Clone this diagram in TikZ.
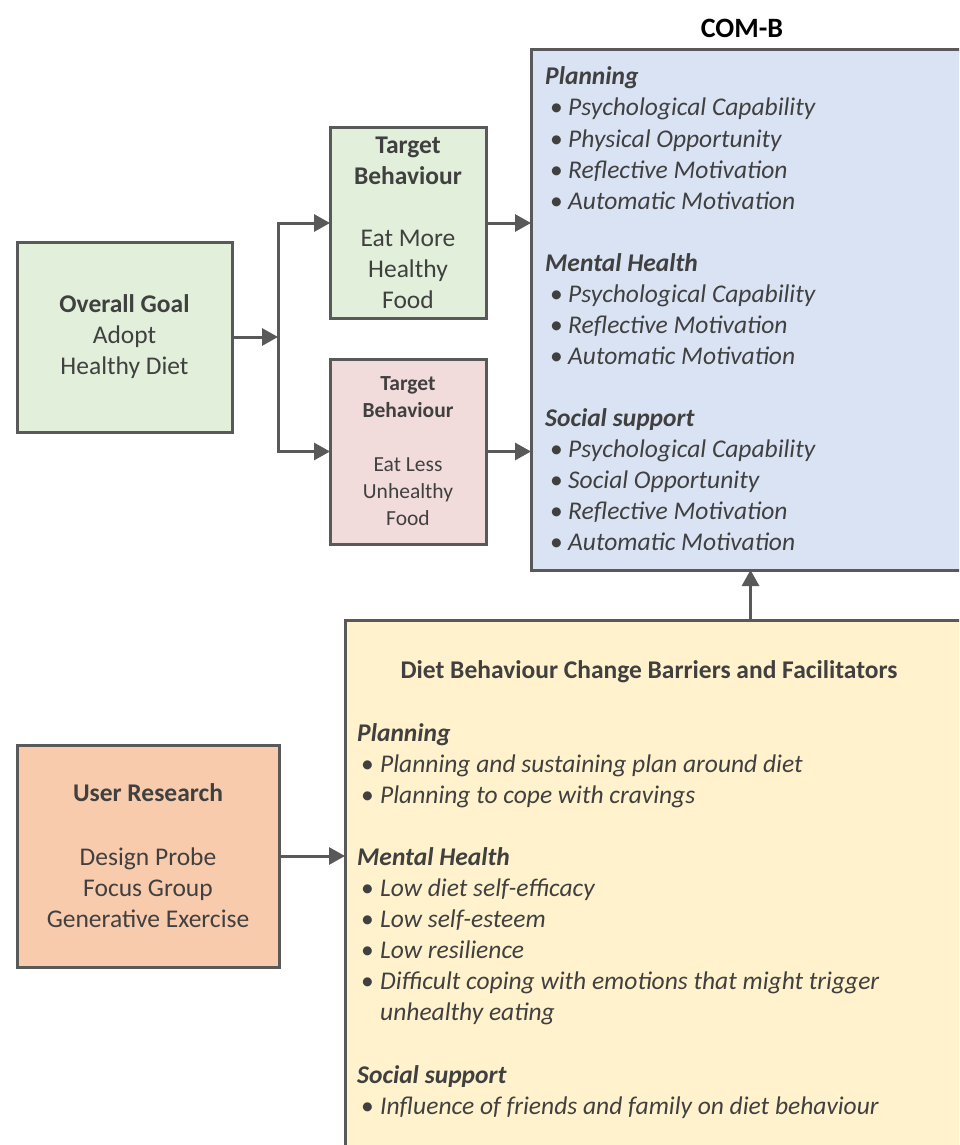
\documentclass[tikz,border=0pt]{standalone}
\usepackage{fontspec}
\setmainfont{Carlito}
\usetikzlibrary{arrows.meta}
\definecolor{txtc}{HTML}{404040}
\definecolor{edgec}{HTML}{595959}
\definecolor{gfill}{HTML}{E2EFDA}
\definecolor{pfill}{HTML}{F2DCDB}
\definecolor{bfill}{HTML}{DAE3F3}
\definecolor{yfill}{HTML}{FFF2CC}
\definecolor{ofill}{HTML}{F8CBAD}
\tikzset{
  boxnode/.style={draw=edgec, line width=3pt, rectangle, anchor=north west, inner sep=0pt, outer sep=0pt},
  txt/.style={text=txtc, font=\fontsize{25.5}{31}\selectfont, align=center, inner sep=0pt},
  ln/.style={text=txtc, font=\fontsize{25.5}{31}\selectfont, anchor=base west, inner sep=0pt},
  conn/.style={draw=edgec, line width=3pt, -{Triangle[length=16pt,width=17pt]}},
}
\begin{document}
\begin{tikzpicture}[x=1pt,y=-1pt]
\useasboundingbox (0,0) rectangle (959,1145);
\clip (0,0) rectangle (959,1145);

% boxes
\node[boxnode, fill=gfill, minimum width=215pt, minimum height=190pt] (goal) at (17,242) {};
\node[boxnode, fill=gfill, minimum width=156pt, minimum height=190pt] (tg) at (330,128) {};
\node[boxnode, fill=pfill, minimum width=156pt, minimum height=185pt] (tp) at (330,359) {};
\node[boxnode, fill=bfill, minimum width=439pt, minimum height=520pt] (comb) at (531,50) {};
\node[boxnode, fill=yfill, minimum width=625pt, minimum height=540pt] (bf) at (345,620) {};
\node[boxnode, fill=ofill, minimum width=262pt, minimum height=222pt] (ur) at (17,745) {};

% box texts
\node[txt] (goaltxt) at (goal.center) {\textbf{Overall Goal}\\Adopt\\Healthy Diet};
\node[txt] (tgtxt) at (tg.center) {\textbf{Target}\\\textbf{Behaviour}\\[31pt]Eat More\\Healthy\\Food};
\node[txt, font=\fontsize{21.5}{27}\selectfont] (tptxt) at (tp.center) {\textbf{Target}\\\textbf{Behaviour}\\[27pt]Eat Less\\Unhealthy\\Food};
\node[txt] (urtxt) at (ur.center) {\textbf{User Research}\\[33pt]Design Probe\\Focus Group\\Generative Exercise};

% COM-B
\node[font=\bfseries\fontsize{28}{34}\selectfont, text=black, inner sep=0pt] (title) at (742,28) {COM-B};
\foreach \i/\t in {0/Planning,6/Mental Health,11/Social support}
  \node[ln] (ch\i) at (545,{85+31*\i}) {\bfseries\itshape \t};
\foreach \i/\t in {1/Psychological Capability,2/Physical Opportunity,3/Reflective Motivation,4/Automatic Motivation,7/Psychological Capability,8/Reflective Motivation,9/Automatic Motivation,12/Psychological Capability,13/Social Opportunity,14/Reflective Motivation,15/Automatic Motivation}
  \node[ln] (cb\i) at (545,{85+31*\i}) {\hspace*{5pt}\makebox[18pt][l]{•}\itshape \t};

% Barriers and facilitators
\node[txt, font=\bfseries\fontsize{25.5}{31}\selectfont] (bftitle) at (649,672) {Diet Behaviour Change Barriers and Facilitators};
\foreach \i/\t in {0/Planning,4/Mental Health,11/Social support}
  \node[ln] (yh\i) at (357,{741+31.1*\i}) {\bfseries\itshape \t};
\foreach \i/\t in {1/Planning and sustaining plan around diet,2/Planning to cope with cravings,5/Low diet self-efficacy,6/Low self-esteem,7/Low resilience,8/Difficult coping with emotions that might trigger,12/Influence of friends and family on diet behaviour}
  \node[ln] (yb\i) at (357,{741+31.1*\i}) {\hspace*{4pt}\makebox[19pt][l]{•}\itshape \t};
\node[ln] (yb9) at (357,{741+31.1*9}) {\hspace*{23pt}\itshape unhealthy eating};

% connectors
\coordinate (j) at (278,337);
\draw[conn] (goal.east) -- (j);
\draw[conn] (j) |- (tg.west);
\draw[conn] (j) |- (tp.west);
\draw[conn] (tg.east) -- (tg.east -| comb.west);
\draw[conn] (tp.east) -- (tp.east -| comb.west);
\draw[conn] (bf.north -| comb.south) -- (comb.south);
\draw[conn] (ur.east) -- (ur.east -| bf.west);
\end{tikzpicture}
\end{document}
